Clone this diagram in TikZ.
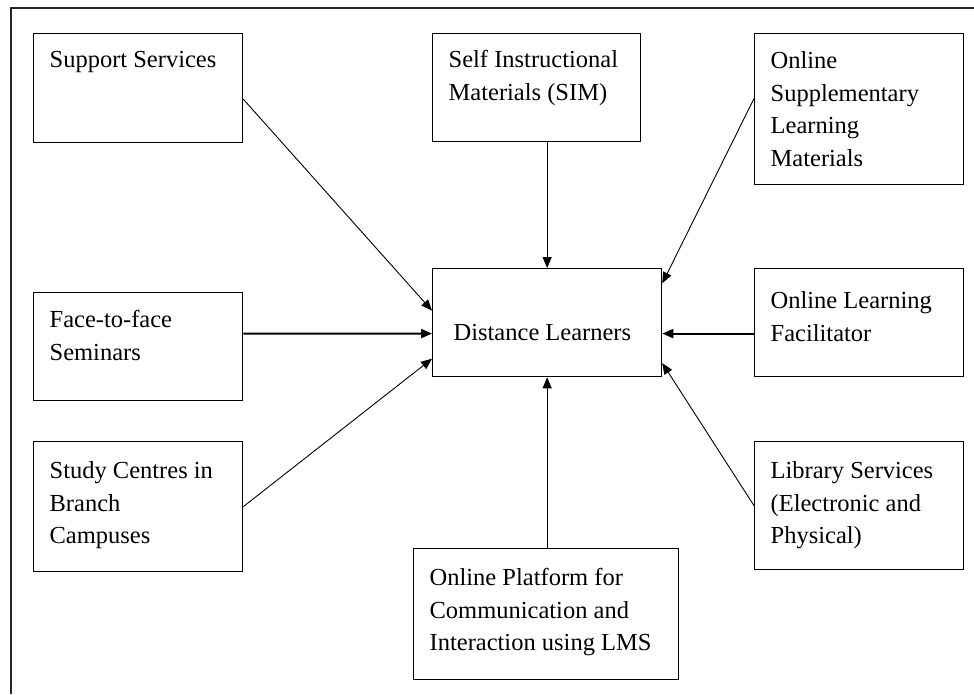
\documentclass[tikz,border=0pt]{standalone}
\usepackage{fontspec}
\setmainfont{Liberation Serif}
\usetikzlibrary{arrows.meta,calc}

% Box body: [left inset]{width}{height}{first baseline from top}{text}
\newcommand\cardbody[5][16pt]{%
  \parbox[c][#3][t]{#2}{\fontsize{24.5pt}{32.5pt}\selectfont
    \raggedright\leftskip=#1\relax\rule{0pt}{#4}#5}}

\begin{document}
\begin{tikzpicture}[x=1pt,y=-1pt,
  card/.style={draw=black, line width=1.3pt, inner sep=0pt, anchor=north west},
  link/.style={-{Triangle[length=11pt,width=9pt]}, line width=0.9pt},
  boldlink/.style={link, line width=2pt},
  frame/.style={line width=1.2pt, draw=black!85}]

\useasboundingbox (0,0) rectangle (974,694);

% open frame round the chart
\draw[frame] (11,694) -- (11,8) -- (974,8);

% boxes
\node[card] (sup)   at (33,33)   {\cardbody{209pt}{109pt}{34pt}{Support Services}};
\node[card] (sim)   at (432,33)  {\cardbody{208pt}{108pt}{34pt}{Self Instructional\\Materials (SIM)}};
\node[card] (oslm)  at (754,33)  {\cardbody{209pt}{151pt}{35pt}{Online\\Supplementary\\Learning\\Materials}};
\node[card] (ftf)   at (33,292)  {\cardbody{209pt}{108pt}{35pt}{Face-to-face\\Seminars}};
\node[card] (dl)    at (432,268) {\cardbody[21pt]{229pt}{108pt}{72pt}{Distance Learners}};
\node[card] (olf)   at (754,268) {\cardbody{209pt}{108pt}{40pt}{Online Learning\\Facilitator}};
\node[card] (study) at (33,441)  {\cardbody{209pt}{130pt}{37pt}{Study Centres in\\Branch\\Campuses}};
\node[card] (lib)   at (754,441) {\cardbody{209pt}{128pt}{37pt}{Library Services\\(Electronic and\\Physical)}};
\node[card] (plat)  at (413,548) {\cardbody{265pt}{131pt}{37pt}{Online Platform for\\Communication and\\Interaction using LMS}};

% connectors into the centre box
\draw[link] ($(sup.north east)!0.6!(sup.south east)$) -- ($(dl.north west)!0.39!(dl.south west)$);
\draw[link] (sim.south -| dl.north) -- (dl.north);
\draw[link] ($(oslm.north west)!0.43!(oslm.south west)$) -- ($(dl.north east)!0.14!(dl.south east)$);
\draw[boldlink] ($(ftf.north east)!0.38!(ftf.south east)$) -- ($(dl.north west)!0.6!(dl.south west)$);
\draw[boldlink] ($(olf.north west)!0.6!(olf.south west)$) -- ($(dl.north east)!0.6!(dl.south east)$);
\draw[link] (study.east) -- ($(dl.north west)!0.83!(dl.south west)$);
\draw[link] (lib.west) -- ($(dl.north east)!0.87!(dl.south east)$);
\draw[link] (plat.north -| dl.south) -- (dl.south);
\end{tikzpicture}
\end{document}
